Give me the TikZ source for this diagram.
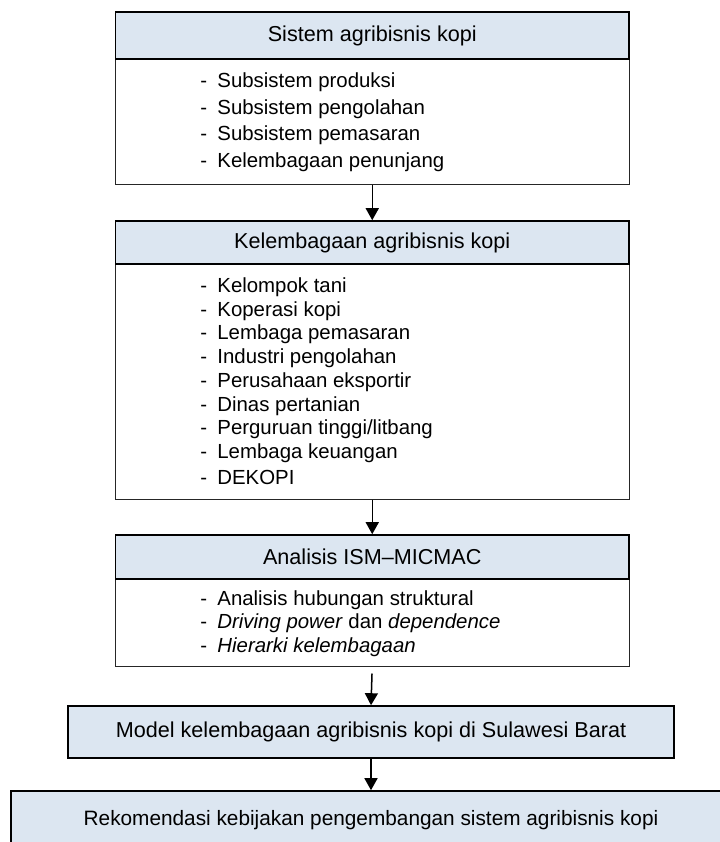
\documentclass[tikz,border=0pt]{standalone}
\usepackage{fontspec}
\setmainfont{Liberation Sans}
\usetikzlibrary{arrows.meta}
\definecolor{kopfblau}{RGB}{220,230,241}
\newcommand{\strich}[1]{\makebox[8.5pt][l]{-}#1}

\begin{document}
\begin{tikzpicture}[x=0.5pt,y=-0.5pt,
		kopf/.style={draw=black, line width=0.8pt, fill=kopfblau, minimum width=256.75pt, inner sep=0pt, font=\fontsize{10.8}{13}\selectfont},
		rumpf/.style={draw=black!85, line width=0.5pt, minimum width=256.75pt, inner sep=0pt},
		punkt/.style={anchor=west, inner sep=0pt, font=\fontsize{10.2}{12}\selectfont},
		pfeil/.style={-{Triangle[length=6pt,width=6.5pt]}, line width=0.75pt}]
			\useasboundingbox (0,0) rectangle (719,842);

			% Sistem agribisnis
			\node[rumpf, minimum height=62.5pt] (sistemrumpf) at (372.25,121.5) {};
			\node[kopf, minimum height=23.5pt] (sistem) at (372.25,35.5) {Sistem agribisnis kopi};
			\node[punkt] (sis1) at (200,82.5) {\strich{Subsistem produksi}};
			\node[punkt] (sis2) at (200,109) {\strich{Subsistem pengolahan}};
			\node[punkt] (sis3) at (200,135.5) {\strich{Subsistem pemasaran}};
			\node[punkt] (sis4) at (200,162) {\strich{Kelembagaan penunjang}};

			% Kelembagaan
			\node[rumpf, minimum height=117.5pt] (lembagarumpf) at (372.25,381.5) {};
			\node[kopf, minimum height=21.5pt] (lembaga) at (372.25,242.5) {Kelembagaan agribisnis kopi};
			\node[punkt] (lem1) at (200,287) {\strich{Kelompok tani}};
			\node[punkt] (lem2) at (200,310.75) {\strich{Koperasi kopi}};
			\node[punkt] (lem3) at (200,334.5) {\strich{Lembaga pemasaran}};
			\node[punkt] (lem4) at (200,358.25) {\strich{Industri pengolahan}};
			\node[punkt] (lem5) at (200,382) {\strich{Perusahaan eksportir}};
			\node[punkt] (lem6) at (200,405.75) {\strich{Dinas pertanian}};
			\node[punkt] (lem7) at (200,429.5) {\strich{Perguruan tinggi/litbang}};
			\node[punkt] (lem8) at (200,453.25) {\strich{Lembaga keuangan}};
			\node[punkt] (lem9) at (200,477) {\strich{DEKOPI}};

			% ISM-MICMAC
			\node[rumpf, minimum height=43.5pt] (analisisrumpf) at (372.25,622.5) {};
			\node[kopf, minimum height=22pt] (analisis) at (372.25,557) {Analisis ISM\textendash MICMAC};
			\node[punkt] (ana1) at (200,600) {\strich{Analisis hubungan struktural}};
			\node[punkt] (ana2) at (200,623.5) {\strich{\textit{Driving power} dan \textit{dependence}}};
			\node[punkt] (ana3) at (200,647) {\strich{\textit{Hierarki kelembagaan}}};

			% Model und Rekomendasi
			\node[kopf, minimum width=303pt, minimum height=26pt] (model) at (371,732) {Model kelembagaan agribisnis kopi di Sulawesi Barat};
			\node[kopf, minimum width=360pt, minimum height=29.5pt, font=\fontsize{10.4}{13}\selectfont] (rekom) at (371,820.5) {Rekomendasi kebijakan pengembangan sistem agribisnis kopi};

			\draw[pfeil] (sistemrumpf.south) -- (lembaga.north);
			\draw[pfeil] (lembagarumpf.south) -- (analisis.north);
			\draw[pfeil, shorten <=3.5pt] (analisisrumpf.south) -- (model.north);
			\draw[pfeil] (model.south) -- (rekom.north);
\end{tikzpicture}
\end{document}
